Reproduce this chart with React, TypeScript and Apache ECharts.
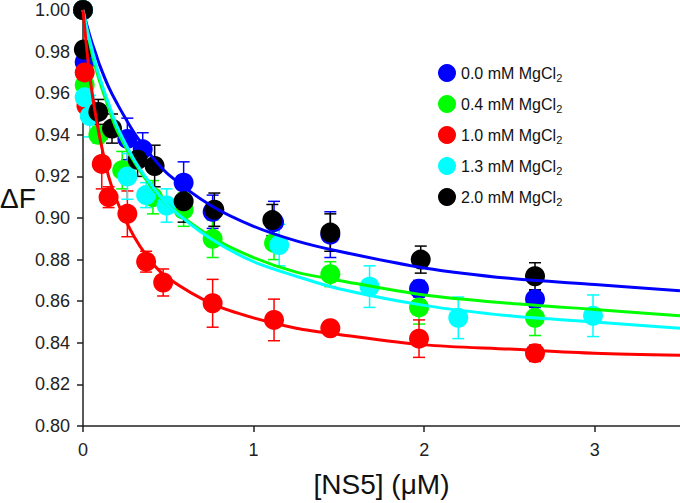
import React, { useEffect, useRef } from "react";
import * as echarts from "echarts";

const concLabels = ["0.0", "0.4", "1.0", "1.3", "2.0"];
const colors = ["#0000ff", "#00ff00", "#ff0000", "#00ffff", "#000000"];

const blueX = [0, 0.01, 0.26, 0.35, 0.59, 0.76, 1.12, 1.45, 1.97, 2.65];
const blueY = [1.0, 0.975, 0.938, 0.933, 0.917, 0.903, 0.898, 0.892, 0.866, 0.861];
const blueErr = [0, 0.004, 0.01, 0.008, 0.01, 0.008, 0.01, 0.011, 0.004, 0.004];

const greenX = [0, 0.01, 0.09, 0.23, 0.41, 0.59, 0.76, 1.12, 1.45, 1.97, 2.65];
const greenY = [1.0, 0.964, 0.94, 0.923, 0.91, 0.904, 0.89, 0.888, 0.873, 0.857, 0.852];
const greenErr = [0, 0.004, 0.004, 0.009, 0.008, 0.008, 0.009, 0.008, 0.006, 0.008, 0.0085];

const redX = [0, 0.01, 0.02, 0.11, 0.15, 0.26, 0.37, 0.47, 0.76, 1.12, 1.45, 1.97, 2.65];
const redY = [1.0, 0.97, 0.954, 0.926, 0.91, 0.902, 0.879, 0.869, 0.859, 0.851, 0.847, 0.842, 0.835];
const redErr = [0, 0.004, 0.006, 0.012, 0.005, 0.011, 0.005, 0.0065, 0.0115, 0.01, 0.002, 0.009, 0.004];

const cyanX = [0, 0.01, 0.04, 0.26, 0.37, 0.49, 1.15, 1.68, 2.2, 2.99];
const cyanY = [1.0, 0.958, 0.949, 0.92, 0.911, 0.906, 0.887, 0.867, 0.852, 0.853];
const cyanErr = [0, 0.004, 0.01, 0.011, 0.006, 0.008, 0.01, 0.01, 0.01, 0.01];

const blackX = [0, 0.005, 0.09, 0.17, 0.32, 0.42, 0.59, 0.77, 1.11, 1.45, 1.98, 2.65];
const blackY = [1.0, 0.981, 0.951, 0.943, 0.928, 0.925, 0.908, 0.904, 0.899, 0.893, 0.88, 0.872];
const blackErr = [0, 0.003, 0.006, 0.007, 0.008, 0.01, 0.01, 0.008, 0.0075, 0.009, 0.0065, 0.0065];

const fitX = [0, 0.025, 0.05, 0.075, 0.1, 0.15, 0.2, 0.3, 0.4, 0.5, 0.75, 1, 1.25, 1.5, 2, 2.5, 3, 3.5];
const blueFit = [1, 0.992, 0.985, 0.979, 0.973, 0.963, 0.955, 0.941, 0.93, 0.921, 0.906, 0.896, 0.889, 0.884, 0.876, 0.871, 0.868, 0.865];
const greenFit = [1, 0.99, 0.98, 0.972, 0.965, 0.953, 0.942, 0.927, 0.915, 0.906, 0.891, 0.881, 0.874, 0.87, 0.863, 0.859, 0.856, 0.853];
const redFit = [1, 0.979, 0.962, 0.949, 0.938, 0.92, 0.908, 0.891, 0.879, 0.871, 0.859, 0.852, 0.847, 0.844, 0.839, 0.837, 0.835, 0.834];
const cyanFit = [1, 0.99, 0.982, 0.974, 0.967, 0.955, 0.944, 0.928, 0.916, 0.906, 0.89, 0.879, 0.872, 0.866, 0.858, 0.853, 0.85, 0.847];

const xTicks = [0, 1, 2, 3];
const xTitle = "[NS5] (μM)";
const yTitle = "ΔF";

const pointSets = [
  { x: blueX, y: blueY, e: blueErr },
  { x: greenX, y: greenY, e: greenErr },
  { x: redX, y: redY, e: redErr },
  { x: cyanX, y: cyanY, e: cyanErr },
  { x: blackX, y: blackY, e: blackErr },
];
const fits = [
  { idx: 0, y: blueFit },
  { idx: 1, y: greenFit },
  { idx: 3, y: cyanFit },
  { idx: 2, y: redFit },
];

const FONT = "'Liberation Sans', Arial, sans-serif";

export default function App() {
  const ref = useRef<HTMLDivElement>(null);
  useEffect(() => {
    if (!ref.current) return;
    const chart = echarts.init(ref.current, undefined, { renderer: "svg" });
    const names = concLabels.map((c) => `${c} mM MgCl2`);
    const series: any[] = [];
    pointSets.forEach((ps, i) => {
      const color = colors[i];
      const data = ps.x.map((x, j) => [x, ps.y[j], ps.e[j]]);
      series.push({
        type: "custom",
        name: names[i] + " err",
        data,
        encode: { x: 0, y: 1 },
        clip: false,
        silent: true,
        renderItem: (params: any, api: any) => {
          const x = api.value(0);
          const y = api.value(1);
          const e = api.value(2);
          if (!e) return null;
          const top = api.coord([x, y + e]);
          const bot = api.coord([x, y - e]);
          const h = 6;
          const st = { stroke: color, lineWidth: 1.5 };
          return {
            type: "group",
            children: [
              { type: "line", shape: { x1: top[0], y1: top[1], x2: bot[0], y2: bot[1] }, style: st },
              { type: "line", shape: { x1: top[0] - h, y1: top[1], x2: top[0] + h, y2: top[1] }, style: st },
              { type: "line", shape: { x1: bot[0] - h, y1: bot[1], x2: bot[0] + h, y2: bot[1] }, style: st },
            ],
          };
        },
      });
      series.push({
        type: "scatter",
        name: names[i],
        data: data.map((d) => [d[0], d[1]]),
        symbol: "circle",
        symbolSize: 20,
        clip: false,
        itemStyle: { color, opacity: 1 },
      });
    });
    fits.forEach((f) => {
      series.push({
        type: "line",
        name: names[f.idx] + " fit",
        data: fitX.map((x, j) => [x, f.y[j]]),
        showSymbol: false,
        smooth: 0.3,
        lineStyle: { color: colors[f.idx], width: 3 },
        itemStyle: { color: colors[f.idx] },
        z: 5,
      });
    });

    chart.setOption({
      animation: false,
      backgroundColor: "#ffffff",
      textStyle: { fontFamily: FONT },
      grid: { left: 83, right: 0, top: 10, bottom: 75, containLabel: false },
      legend: {
        data: names.map((n) => ({ name: n, icon: "circle" })),
        orient: "vertical",
        left: 433,
        top: 59,
        itemWidth: 18,
        itemHeight: 18,
        itemGap: 12,
        selectedMode: false,
        formatter: (n: string) => `{a|${n.slice(0, -1)}}{b|2}`,
        textStyle: {
          fontFamily: FONT,
          rich: {
            a: { fontSize: 16, color: "#111", fontFamily: FONT },
            b: { fontSize: 11, color: "#111", fontFamily: FONT, padding: [9, 0, 0, 0] },
          },
        },
      },
      xAxis: {
        type: "value",
        min: 0,
        max: 3.5,
        interval: 1,
        name: xTitle,
        nameLocation: "middle",
        nameGap: 44,
        nameTextStyle: { fontSize: 28, color: "#111", fontFamily: FONT },
        axisLine: { show: true, lineStyle: { color: "#222", width: 1.5 } },
        axisTick: { show: true, length: 6, lineStyle: { color: "#222", width: 1.5 }, customValues: xTicks },
        axisLabel: { fontSize: 18, color: "#222", margin: 15, customValues: xTicks, formatter: (v: number) => String(v) },
        splitLine: { show: false },
      },
      yAxis: {
        type: "value",
        min: 0.8,
        max: 1.0,
        interval: 0.02,
        axisLine: { show: true, lineStyle: { color: "#222", width: 1.5 } },
        axisTick: { show: true, length: 6, lineStyle: { color: "#222", width: 1.5 } },
        axisLabel: { fontSize: 18, color: "#222", margin: 13, formatter: (v: number) => v.toFixed(2) },
        splitLine: { show: false },
      },
      graphic: [
        {
          type: "text",
          left: 0,
          top: 184,
          style: { text: yTitle, fontSize: 28, fill: "#111", fontFamily: FONT },
        },
      ],
      series,
    });
    return () => chart.dispose();
  }, []);
  return (
    <div
      ref={ref}
      style={{ position: "fixed", left: 0, top: 0, width: 680, height: 503, background: "#fff" }}
    />
  );
}
